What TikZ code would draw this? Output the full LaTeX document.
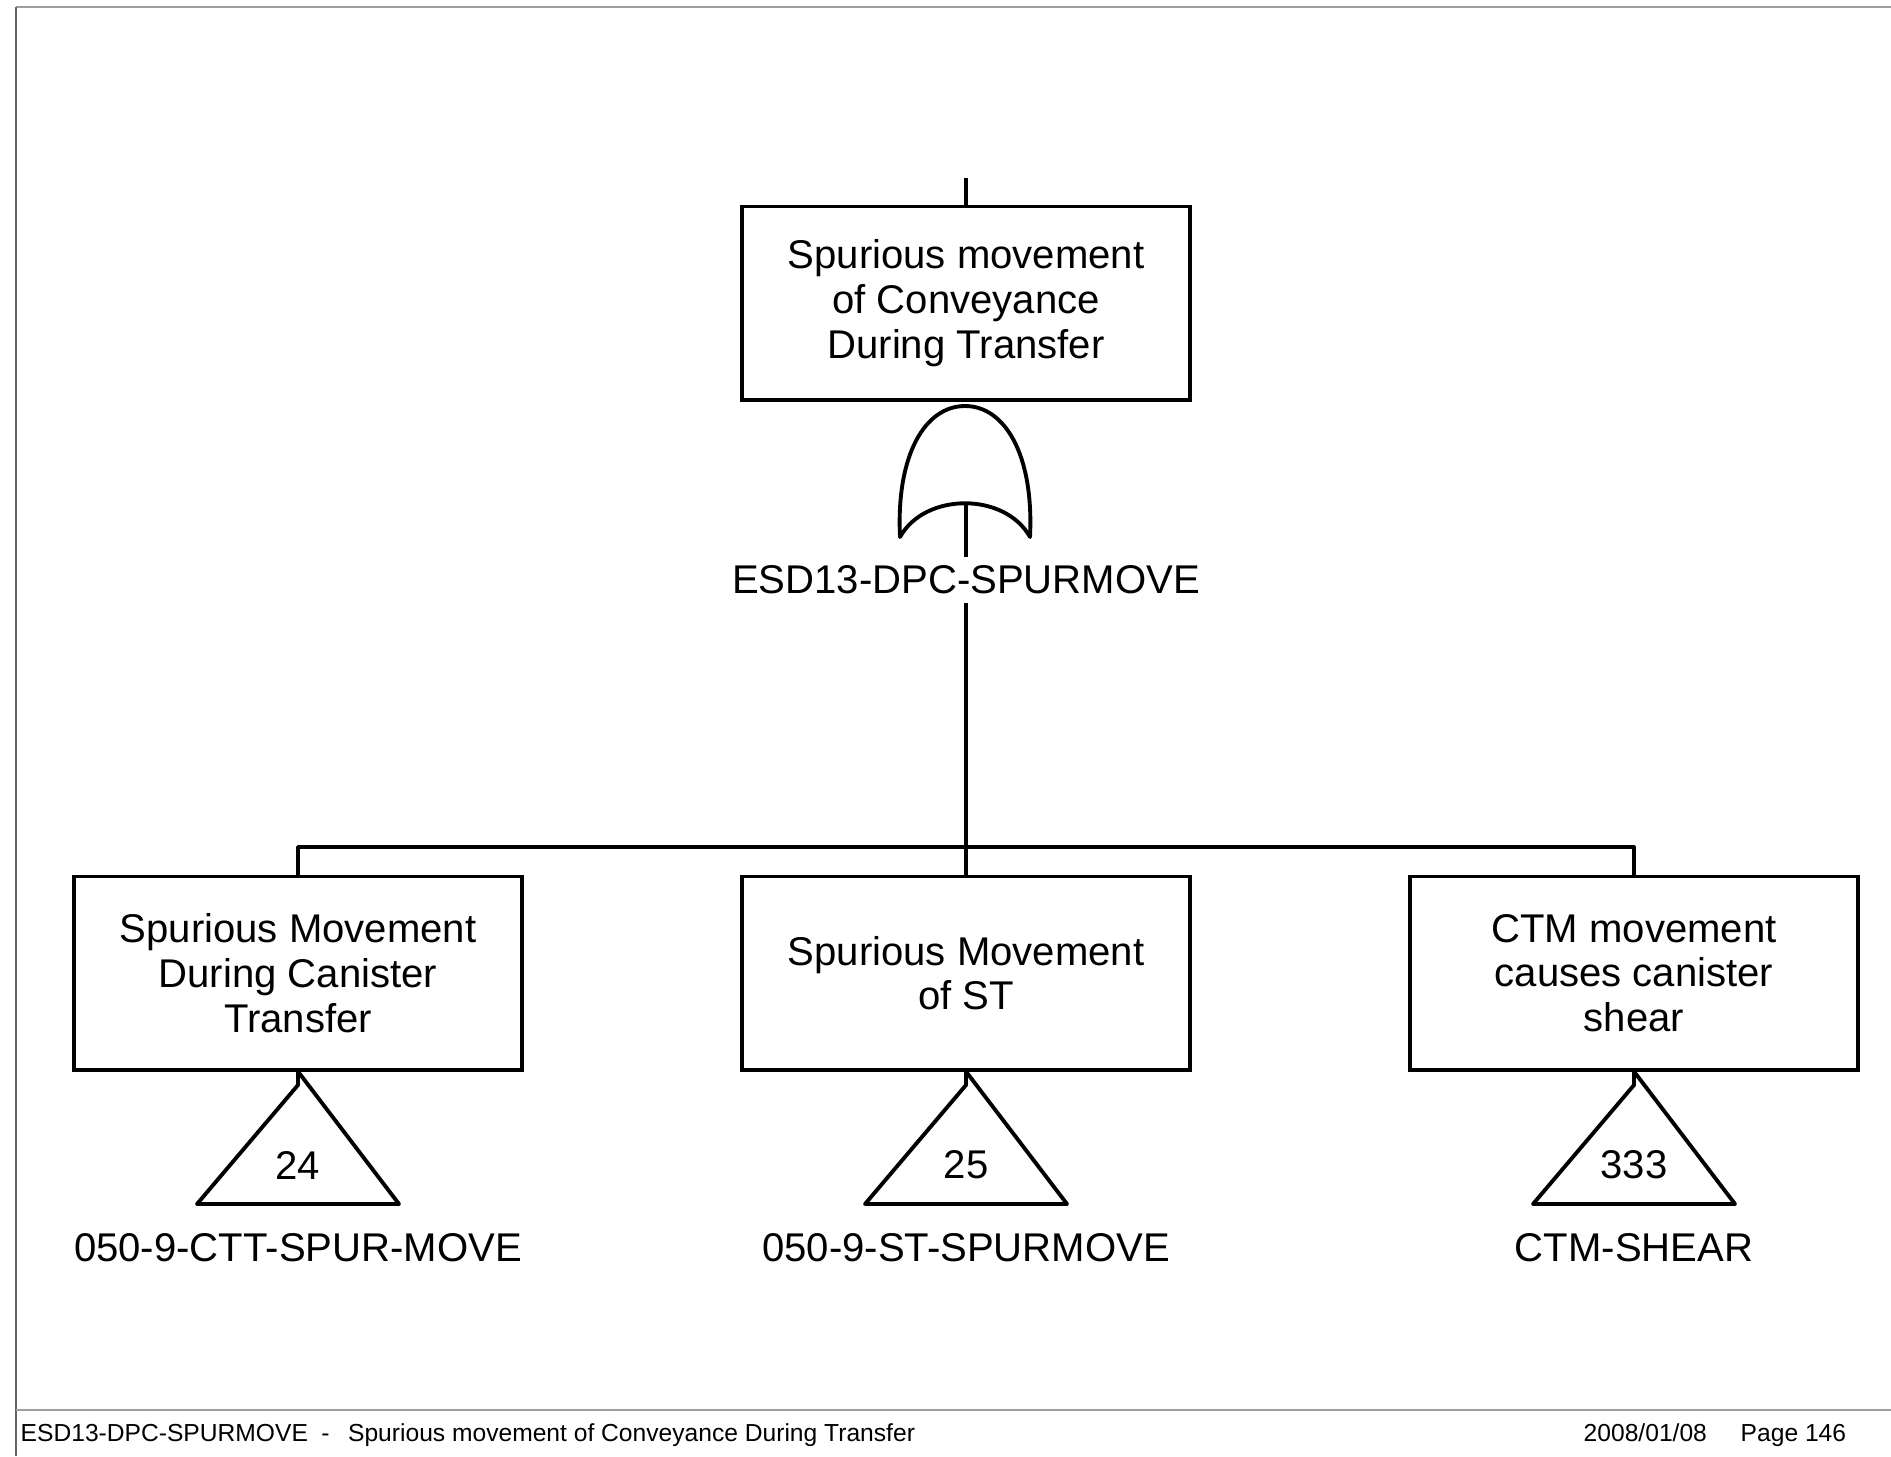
\documentclass[tikz,border=0pt]{standalone}
\usepackage{fontspec}
\setmainfont{Liberation Sans}
\definecolor{FrameClr}{rgb}{0.62,0.62,0.62}
\definecolor{EdgeClr}{rgb}{0.4,0.4,0.4}
\tikzset{
  event/.style={draw,line width=1.1pt,minimum width=4.47cm,minimum height=1.93cm,
    align=center,inner sep=0pt,font=\fontsize{11.4}{12.7}\selectfont},
  tag/.style={inner sep=0.08cm,font=\fontsize{11.4}{12.7}\selectfont},
  footer/.style={inner sep=0pt,anchor=base west,font=\fontsize{7}{8}\selectfont},
  link/.style={line width=1.1pt,line join=round}
}

\begin{document}
\begin{tikzpicture}[x=0.01cm,y=-0.01cm]
\useasboundingbox (0,0) rectangle (1891,1456);

\draw[FrameClr,line width=0.5pt] (16,7) -- (1891,7);
\draw[EdgeClr,line width=0.5pt] (16,7) -- (16,1456);
\draw[FrameClr,line width=0.5pt] (16,1410) -- (1891,1410);

\node[event] (top) at (966,303) {Spurious movement\\of Conveyance\\During Transfer};
\coordinate (in) at (966,178);
\draw[link] (in) -- (top.north);

\draw[link] (900,537) .. controls (896,455) and (925,406) .. (965,406)
  .. controls (1005,406) and (1034,455) .. (1030,537)
  .. controls (1005,492) and (925,492) .. cycle;
\coordinate (stem) at (966,502);
\node[tag] (gatelbl) at (966,580) {ESD13-DPC-SPURMOVE};
\draw[link] (stem) -- (gatelbl.north);

\node[event] (c1) at (298,973) {Spurious Movement\\During Canister\\Transfer};
\node[event] (c2) at (966,973) {Spurious Movement\\of ST};
\node[event] (c3) at (1634,973) {CTM movement\\causes canister\\shear};

\coordinate (bar) at (966,847);
\draw[link] (gatelbl.south) -- (bar);
\draw[link] (c1.north) |- (bar) -| (c3.north);
\draw[link] (c2.north) -- (bar);

\coordinate (t1) at (298,1085);
\coordinate (t2) at (966,1085);
\coordinate (t3) at (1634,1085);
\draw[link] (c1.south) -- (t1) -- ++(-101,119) -- ++(202,0) -- cycle;
\draw[link] (c2.south) -- (t2) -- ++(-101,119) -- ++(202,0) -- cycle;
\draw[link] (c3.south) -- (t3) -- ++(-101,119) -- ++(202,0) -- cycle;

\node[tag] (n1) at (298,1165) {24};
\node[tag] (n2) at (966,1165) {25};
\node[tag] (n3) at (1634,1165) {333};

\node[tag] (l1) at (298,1248) {050-9-CTT-SPUR-MOVE};
\node[tag] (l2) at (966,1248) {050-9-ST-SPURMOVE};
\node[tag] (l3) at (1634,1248) {CTM-SHEAR};

\node[footer] (ftitle) at (20,1441) {ESD13-DPC-SPURMOVE\hspace{0.55em}-\hspace{0.75em}Spurious movement of Conveyance During Transfer};
\node[footer] (fdate) at (1583,1441) {2008/01/08};
\node[footer] (fpage) at (1740,1441) {Page 146};

\end{tikzpicture}
\end{document}
